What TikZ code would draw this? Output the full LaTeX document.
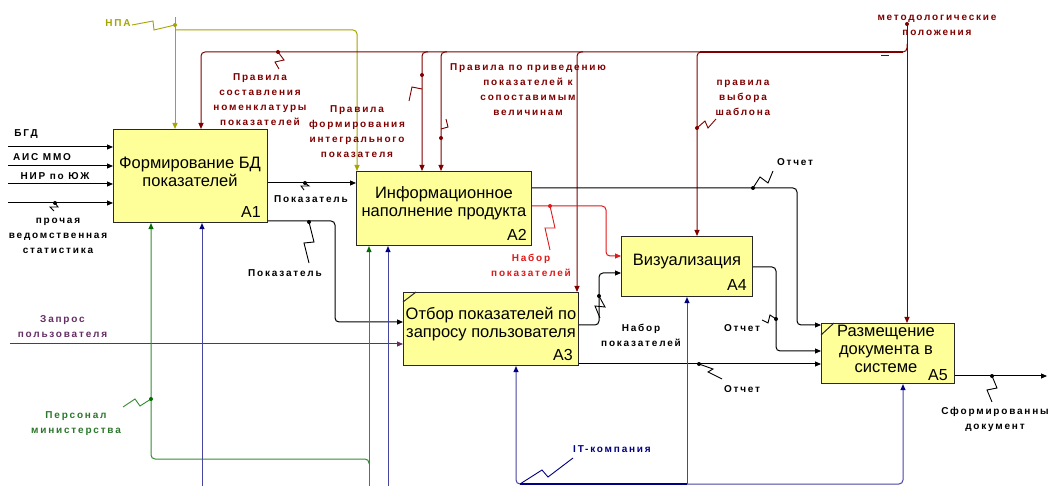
\documentclass[tikz,border=0pt]{standalone}
\usepackage{fontspec}
\setmainfont{Liberation Sans}
\newfontfamily\lblfont[LetterSpace=18]{Liberation Sans}
\usetikzlibrary{arrows.meta,calc}
\definecolor{boxfill}{RGB}{255,255,153}
\definecolor{boxline}{RGB}{40,40,40}
\definecolor{olivec}{RGB}{165,165,0}
\definecolor{marc}{RGB}{128,0,0}
\definecolor{redc}{RGB}{225,25,25}
\definecolor{grnc}{RGB}{50,140,50}
\definecolor{grnd}{RGB}{0,110,0}
\definecolor{navc}{RGB}{70,70,160}
\definecolor{navd}{RGB}{0,0,128}
\definecolor{purc}{RGB}{100,45,100}
\begin{document}
\begin{tikzpicture}[x=1pt,y=-1pt,
  box/.style={draw=boxline, fill=boxfill, line width=1.1pt, anchor=north west, inner sep=0pt},
  btxt/.style={font=\fontsize{16.5}{18}\selectfont, align=center, inner sep=0pt},
  bnum/.style={font=\fontsize{16}{18}\selectfont, anchor=base east, inner sep=0pt},
  lbl/.style={font=\lblfont\bfseries\fontsize{10}{15}\selectfont, align=center, inner sep=0pt},
  ar/.style={-{Triangle[length=6pt,width=5pt]}},
  arg/.style={-{Triangle[length=6pt,width=5pt,color=grnd]}},
  arn/.style={-{Triangle[length=6pt,width=5pt,color=navd]}},
  conn/.style={line width=1pt, rounded corners=4pt},
  sq/.style={line width=0.9pt},
]
\fill[white] (0,0) rectangle (1050,486);
\useasboundingbox (0,0) rectangle (1050,486);

% boxes
\node[box, minimum width=154pt, minimum height=93pt] (a1) at (113,129) {};
\node[box, minimum width=175pt, minimum height=74pt] (a2) at (356,171) {};
\node[box, minimum width=175pt, minimum height=73pt] (a3) at (403,292) {};
\node[box, minimum width=131pt, minimum height=60pt] (a4) at (621,236) {};
\node[box, minimum width=133pt, minimum height=60pt] (a5) at (821,323) {};
\draw[boxline, line width=1pt] (a3.north west) ++(0,10) -- ++(13,-10);
\draw[boxline, line width=1pt] (a5.north west) ++(0,12) -- ++(13,-12);

\node[btxt] (a1t) at (190,172) {Формирование БД\\показателей};
\node[btxt] (a2t) at (444,203) {Информационное\\наполнение продукта};
\node[btxt] (a3t) at (491,324) {Отбор показателей по\\запросу пользователя};
\node[btxt] (a4t) at (687,262) {Визуализация};
\node[btxt] (a5t) at (886,349) {Размещение\\документа в\\системе};
\node[bnum] (a1n) at (261,218) {A1};
\node[bnum] (a2n) at (527,241) {A2};
\node[bnum] (a3n) at (573,361) {A3};
\node[bnum] (a4n) at (747,291) {A4};
\node[bnum] (a5n) at (948,381) {A5};

% free ends
\coordinate (i1) at (8,147);
\coordinate (i2) at (8,166);
\coordinate (i3) at (8,184);
\coordinate (i4) at (8,203);
\coordinate (q) at (10,344);
\coordinate (npa) at (175,17);
\coordinate (met) at (907,24);
\coordinate (g) at (369,486);
\coordinate (n1) at (202,486);
\coordinate (n2) at (388,486);
\coordinate (itj) at (687,484);
\coordinate (out) at (1047,376);

% inputs
\draw[conn,ar] (i1) -- (a1.west |- i1);
\draw[conn,ar] (i2) -- (a1.west |- i2);
\draw[conn,ar] (i3) -- (a1.west |- i3);
\draw[conn,ar] (i4) -- (a1.west |- i4);
\draw[purc,conn,ar] (q) -- (a3.west |- q);

% olive
\draw[olivec,conn,ar] (npa) -- (175,0 |- a1.north);
\draw[olivec,conn,ar] (175,30) -- (357,30) -- (357,0 |- a2.north);

% maroon controls
\draw[marc,conn,ar] (met) -- (907,0 |- a5.north);
\draw[marc,conn,ar] (907,44) -- (907,52) -- (201,52) -- (201,0 |- a1.north);
\draw[marc,line width=2pt] (700,52) -- (903,52);
\draw[marc,line width=0.8pt] (881,55) -- (889,55);
\draw[marc,conn,ar] (428,52) -- (422,52) -- (422,0 |- a2.north);
\draw[marc,conn,ar] (447,52) -- (441,52) -- (441,0 |- a2.north);
\draw[marc,conn,ar] (583,52) -- (577,52) -- (577,0 |- a3.north);
\draw[marc,conn,ar] (703,52) -- (697,52) -- (697,0 |- a4.north);

% outputs
\draw[conn,ar] (a1.east |- 0,183) -- (a2.west |- 0,183);
\draw[conn,ar] (a1.east |- 0,221) -- (335,221) -- (335,322) -- (a3.west |- 0,322);
\draw[conn,ar] (a2.east |- 0,188) -- (797,188) -- (797,325) -- (a5.west |- 0,325);
\draw[redc,conn,ar] (a2.east |- 0,206) -- (606,206) -- (606,256) -- (a4.west |- 0,256);
\draw[conn,ar] (a3.east |- 0,325) -- (599,325) -- (599,273) -- (a4.west |- 0,273);
\draw[conn,ar] (a3.east |- 0,364) -- (a5.west |- 0,364);
\draw[conn,ar] (a4.east |- 0,267) -- (776,267) -- (776,351) -- (a5.west |- 0,351);
\draw[conn,ar] (a5.east |- 0,376) -- (out);

% mechanisms
\draw[grnc,conn,arg] (g) -- (369,0 |- a2.south);
\draw[grnc,conn,arg] (369,464) -- (369,459) -- (151,459) -- (151,0 |- a1.south);
\draw[navc,conn,arn] (n1) -- (202,0 |- a1.south);
\draw[navc,conn,arn] (n2) -- (388,0 |- a2.south);
\draw[navc,conn,arn] (itj) -- (516,484) -- (516,0 |- a3.south);
\draw[navc,conn,arn] (itj) -- (903,484) -- (903,0 |- a5.south);
\draw[navc,conn,arn] (itj) -- (687,0 |- a4.south);
\draw[navd,line width=2pt] (520,484) -- (687,484);

% squiggles and dots
\draw[olivec,sq] (132,25) -- (153,21) -- (154,30) -- (175,25);
\fill[olivec] (175,25) circle (2pt);
\fill[marc] (907,24) circle (2pt);
\draw[marc,sq] (278,52) -- (284,60) -- (275,62) -- (279,69);
\fill[marc] (278,52) circle (2pt);
\draw[marc,sq] (422,89) -- (412,87) -- (409,101);
\fill[marc] (422,75) circle (2pt);
\draw[marc,sq] (441,129) -- (448,127) -- (446,119);
\fill[marc] (441,138) circle (2pt);
\draw[marc,sq] (697,128) -- (705,121) -- (708,128) -- (716,119);
\fill[marc] (697,128) circle (2pt);
\draw[sq] (305,183) -- (309,186) -- (301,186) -- (304,190);
\fill (305,183) circle (2pt);
\draw[sq] (309,222) -- (314,242) -- (304,243) -- (309,263);
\fill (309,222) circle (2pt);
\draw[sq] (753,188) -- (760,177) -- (768,183) -- (773,171);
\fill (753,188) circle (2pt);
\draw[redc,sq] (550,206) -- (555,228) -- (545,228) -- (550,250);
\fill[redc] (550,206) circle (2pt);
\draw[sq] (599,296) -- (605,307) -- (595,306) -- (600,318);
\fill (599,296) circle (2pt);
\draw[sq] (699,364) -- (713,369) -- (708,372) -- (722,379);
\fill (699,364) circle (2pt);
\draw[sq] (776,319) -- (770,315) -- (768,323) -- (762,320);
\fill (776,319) circle (2pt);
\draw[sq] (992,376) -- (997,388) -- (987,390) -- (992,402);
\fill (992,376) circle (2pt);
\draw[sq] (55,203) -- (58,207) -- (50,207) -- (54,211);
\fill (55,203) circle (2pt);
\draw[grnc,sq] (151,399) -- (140,406) -- (135,399) -- (123,407);
\fill[grnd] (151,399) circle (2pt);
\draw[navd,sq] (520,484) -- (542,470) -- (548,477) -- (573,458);

% labels
\node[lbl] (lbgd) at (26,134) {БГД};
\node[lbl] (lais) at (42,157) {АИС ММО};
\node[lbl] (lnir) at (55,176) {НИР по ЮЖ};
\node[lbl] (lpro) at (58,236) {прочая\\ведомственная\\статистика};
\node[lbl, text=olivec] (lnpa) at (118,23) {НПА};
\node[lbl, text=marc] (lr1) at (260,100) {Правила\\составления\\номенклатуры\\показателей};
\node[lbl, text=marc] (lr2) at (357,132) {Правила\\формирования\\интегрального\\показателя};
\node[lbl, text=marc] (lr3) at (528,90) {Правила по приведению\\показателей к\\сопоставимым\\величинам};
\node[lbl, text=marc] (lr4) at (743,98) {правила\\выбора\\шаблона};
\node[lbl, text=marc] (lmet) at (937,25.5) {методологические\\положения};
\node[lbl] (lp1) at (311,199) {Показатель};
\node[lbl] (lp2) at (285,273) {Показатель};
\node[lbl, text=redc] (lnab1) at (531,265.5) {Набор\\показателей};
\node[lbl] (lnab2) at (641,335.5) {Набор\\показателей};
\node[lbl] (lo1) at (795,162) {Отчет};
\node[lbl] (lo2) at (742,328) {Отчет};
\node[lbl] (lo3) at (742,389) {Отчет};
\node[lbl] (ldoc) at (995,419.5) {Сформированны\\документ};
\node[lbl, text=purc] (lq) at (62.5,326.5) {Запрос\\пользователя};
\node[lbl, text=grnc!85!black] (lpers) at (76,424) {Персонал\\министерства};
\node[lbl, text=navd] (lit) at (612,449) {IT-компания};
\end{tikzpicture}
\end{document}
